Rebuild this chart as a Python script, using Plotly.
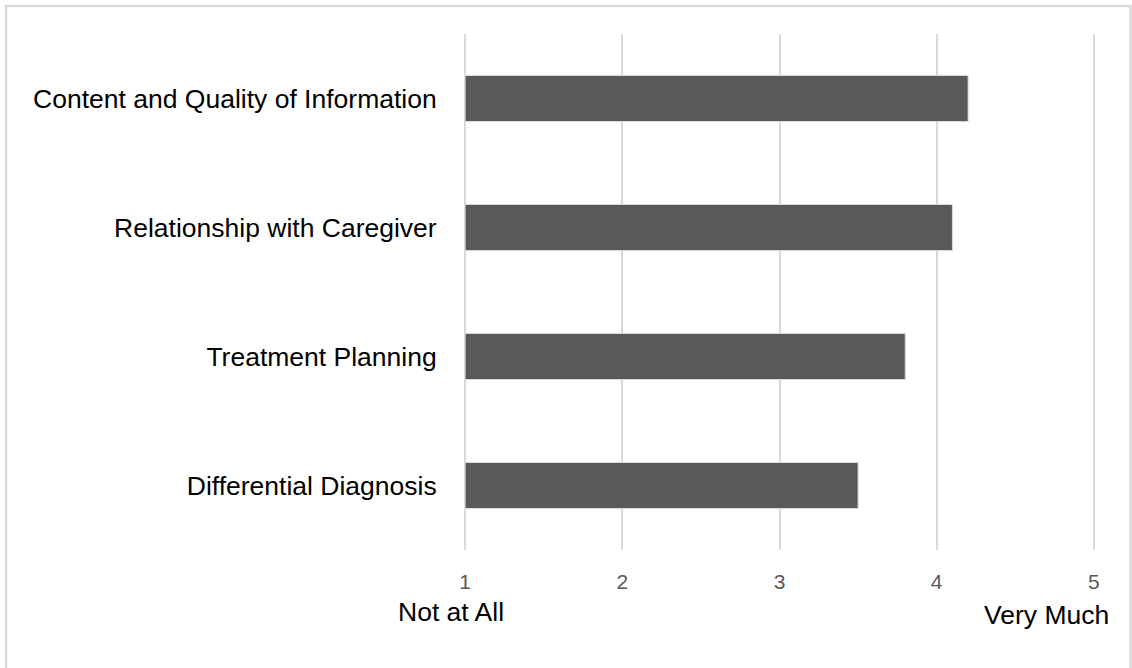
import plotly.graph_objects as go

# Survey items (top to bottom) and mean ratings on a 1–5 scale
categories = [
    "Content and Quality of Information",
    "Relationship with Caregiver",
    "Treatment Planning",
    "Differential Diagnosis",
]
ratings = [4.2, 4.1, 3.8, 3.5]
scale_start = 1
tick_values = [1, 2, 3, 4, 5]
scale_low_label = "Not at All"
scale_high_label = "Very Much"

W, H = 1132, 668
# x range padded a little so the gridlines at 1 and 5 are fully visible
x_range = [0.98, 5.02]
L, R, T, B = 462, 35, 34, 118
plot_w = W - L - R
plot_h = H - T - B


def px_x(px):
    return (px - L) / plot_w


def px_y(py):
    return (H - B - py) / plot_h


# bars start at the bottom of the rating scale
fig = go.Figure(
    go.Bar(
        x=[r - scale_start for r in ratings],
        base=scale_start,
        y=categories,
        orientation="h",
        width=0.357,
        marker=dict(color="#595959", line=dict(color="#d9d9d9", width=1)),
        customdata=ratings,
        hovertemplate="%{y}: %{customdata}<extra></extra>",
    )
)

fig.update_layout(
    width=W,
    height=H,
    margin=dict(l=L, r=R, t=T, b=B),
    paper_bgcolor="white",
    plot_bgcolor="white",
    showlegend=False,
    font=dict(family="Liberation Sans, Arial, sans-serif", color="black"),
    xaxis=dict(
        range=x_range,
        tickvals=tick_values,
        ticktext=[str(v) for v in tick_values],
        showgrid=True,
        gridcolor="#d9d9d9",
        gridwidth=2,
        zeroline=False,
        showline=False,
        ticks="outside",
        ticklen=13,
        tickcolor="rgba(0,0,0,0)",
        tickfont=dict(family="Liberation Sans, Arial, sans-serif",
                      size=21, color="#595959"),
        fixedrange=True,
    ),
    yaxis=dict(
        categoryorder="array",
        categoryarray=categories[::-1],
        showgrid=False,
        zeroline=False,
        showline=False,
        ticks="outside",
        ticklen=19,
        tickcolor="rgba(0,0,0,0)",
        tickfont=dict(size=26.5, color="black"),
        fixedrange=True,
    ),
    annotations=[
        dict(text=scale_low_label, xref="paper", yref="paper",
             x=px_x(450.5), y=px_y(612), xanchor="center", yanchor="middle",
             showarrow=False, font=dict(size=26.5, color="black")),
        dict(text=scale_high_label, xref="paper", yref="paper",
             x=px_x(1046.5), y=px_y(615), xanchor="center", yanchor="middle",
             showarrow=False, font=dict(size=26.5, color="black")),
    ],
    shapes=[
        dict(type="rect", xref="paper", yref="paper",
             x0=px_x(6), x1=px_x(1130.5), y0=px_y(690), y1=px_y(6),
             line=dict(color="#d9d9d9", width=2.5), layer="below"),
    ],
)

fig.write_html("out.html")
